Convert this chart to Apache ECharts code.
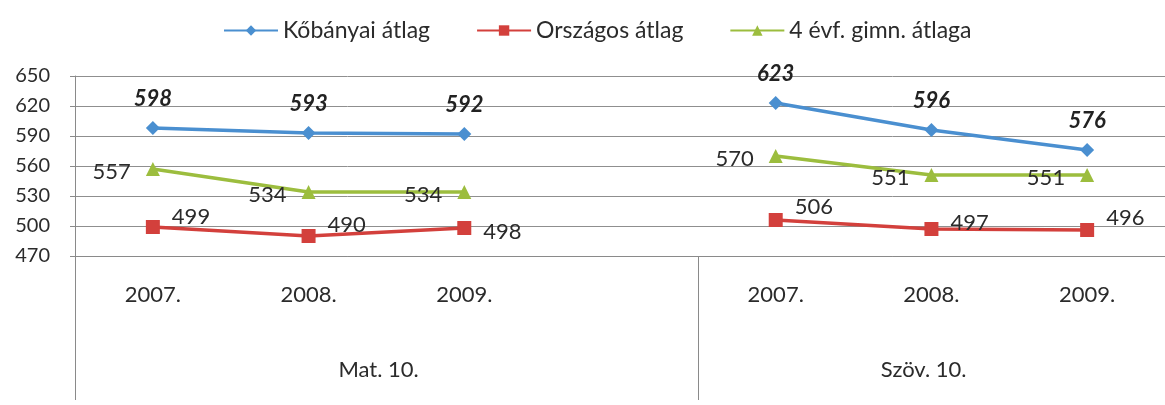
<!DOCTYPE html>
<html>
<head>
<meta charset="utf-8">
<script src="https://cdn.jsdelivr.net/npm/echarts@6/dist/echarts.min.js"></script>
<style>
html,body{margin:0;padding:0;background:#fff;}
#main{width:1165px;height:405px;}
</style>
</head>
<body>
<div id="main"></div>
<script>
// kategóriák (a 4. hely üres rés a két csoport között)
var years = ["2007.", "2008.", "2009.", "", "2007.", "2008.", "2009."];
var groups = ["Mat. 10.", "Szöv. 10."];
var kobanyai = [598, 593, 592, null, 623, 596, 576];
var orszagos = [499, 490, 498, null, 506, 497, 496];
var gimn = [557, 534, 534, null, 570, 551, 551];
var yTicks = {min: 470, max: 650, interval: 30};

// címke függőleges igazítás az Országos sorhoz
var orszLabelDy = [-10, -11, 4, 0, -13, -6, -12];

var font = "Lato, 'Open Sans', sans-serif";
var txt = "#2b2b2b";
var gridLeft = 75, gridTop = 76, plotH = 180, catW = 156.7;

var myChart = echarts.init(document.getElementById("main"));

function lineSeries(name, data, color, symbol, size, label){
	return {
		name: name,
		type: "line",
		data: data,
		xAxisIndex: 0,
		yAxisIndex: 0,
		symbol: symbol,
		symbolSize: size,
		connectNulls: false,
		lineStyle: {color: color, width: 3.5},
		itemStyle: {color: color},
		label: label,
		z: 3
	};
}

//Országos adatok címke eltolással
var orszData = [];
for(var i=0;i<orszagos.length;i++){
	orszData.push({value: orszagos[i], label: {offset: [0, orszLabelDy[i]]}});
}

var option = {
	animation: false,
	backgroundColor: "#fff",
	textStyle: {fontFamily: font},
	legend: {
		top: 14,
		left: 218,
		itemWidth: 54,
		itemHeight: 13,
		itemGap: 46,
		textStyle: {fontSize: 23, color: txt, fontFamily: font},
		data: ["Kőbányai átlag", "Országos átlag", "4 évf. gimn. átlaga"]
	},
	grid: [
		{left: gridLeft, top: gridTop, width: catW * years.length, height: plotH},
		// alsó sáv a csoportelválasztó vonalaknak
		{left: gridLeft, top: gridTop + plotH, width: catW * years.length, height: 144}
	],
	xAxis: [
		{
			type: "category",
			gridIndex: 0,
			data: years,
			boundaryGap: true,
			axisLine: {show: true, lineStyle: {color: "#8a8a8a", width: 1}},
			axisTick: {show: false},
			axisLabel: {margin: 28, fontSize: 22, color: txt, fontFamily: font, interval: 0}
		},
		{
			type: "value",
			gridIndex: 1,
			min: 0,
			max: 7,
			interval: 4,
			axisLine: {show: false},
			axisTick: {show: false},
			axisLabel: {show: false},
			splitLine: {show: true, lineStyle: {color: "#8a8a8a", width: 1}}
		}
	],
	yAxis: [
		{
			type: "value",
			gridIndex: 0,
			min: yTicks.min,
			max: yTicks.max,
			interval: yTicks.interval,
			axisLine: {show: true, lineStyle: {color: "#8a8a8a", width: 1}},
			axisTick: {show: true, length: 5, lineStyle: {color: "#8a8a8a"}},
			axisLabel: {margin: 25, fontSize: 20, color: txt, fontFamily: font},
			splitLine: {show: true, lineStyle: {color: "#8f8f8f", width: 1}}
		},
		{
			type: "value",
			gridIndex: 1,
			show: false
		}
	],
	graphic: [
		{type: "text", left: gridLeft + 2 * catW - 50, top: 359,
			style: {text: groups[0], fontSize: 22, fill: txt, fontFamily: font}},
		{type: "text", left: gridLeft + 5.5 * catW - 56, top: 359,
			style: {text: groups[1], fontSize: 22, fill: txt, fontFamily: font}}
	],
	series: [
		lineSeries("Kőbányai átlag", kobanyai, "#4a8fd0", "diamond", 14, {
			show: true, position: "top", distance: 11,
			fontSize: 22, fontWeight: "bold", fontStyle: "italic", color: "#222", fontFamily: font
		}),
		lineSeries("Országos átlag", orszData, "#d3403c", "rect", 14, {
			show: true, position: "right", distance: 12,
			fontSize: 22, color: txt, fontFamily: font
		}),
		lineSeries("4 évf. gimn. átlaga", gimn, "#9cbd3e", "triangle", 14, {
			show: true, position: "left", distance: 15, offset: [0, 3],
			fontSize: 22, color: txt, fontFamily: font
		})
	]
};

myChart.setOption(option);
</script>
</body>
</html>
